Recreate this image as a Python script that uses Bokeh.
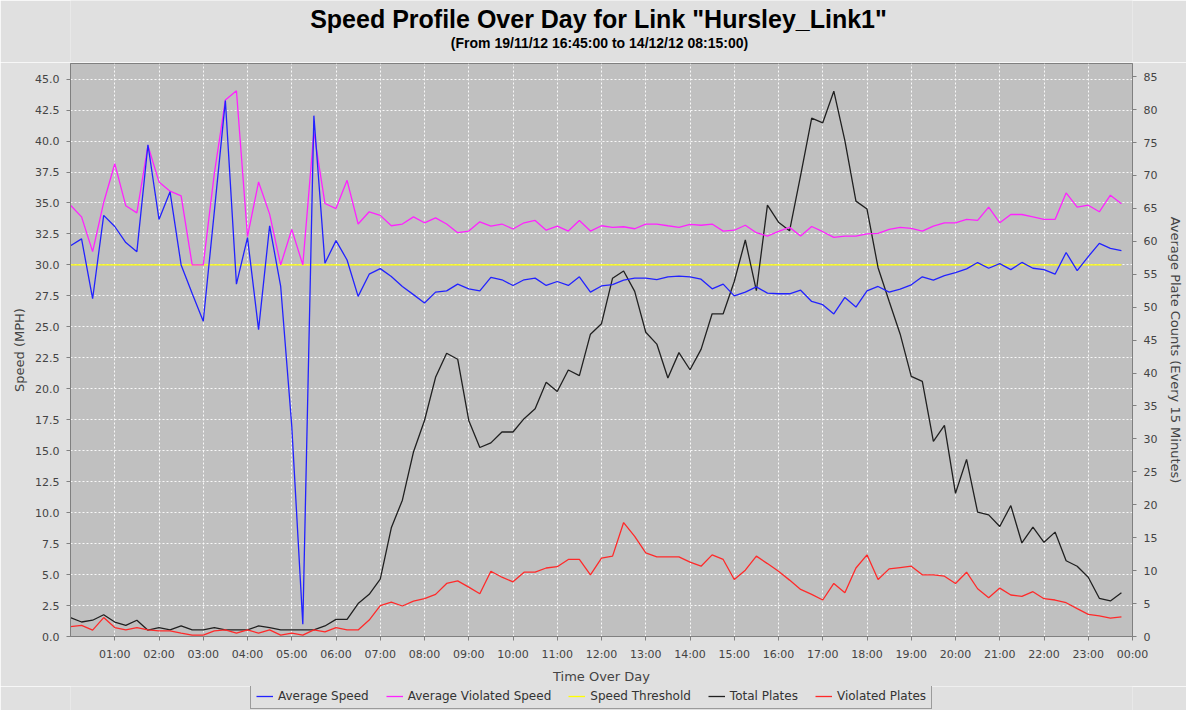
from bokeh.plotting import figure
from bokeh.layouts import column
from bokeh.models import Range1d, LinearAxis, FixedTicker, Legend, LegendItem, Label
from bokeh.embed import file_html
from bokeh.resources import INLINE

# ---------------- data (15-minute slots, 00:00 .. 23:45) ----------------
slots = [i / 4 for i in range(96)]  # hour of day for each 15-minute slot

avg_speed = [
    31.55, 32.1, 27.27, 34.0, 33.1, 31.8, 31.07, 39.7, 33.67, 35.9,
    30.0, 27.7, 25.45, 34.3, 43.26, 28.45, 32.2, 24.78, 33.16, 28.26,
    17.0, 1.0, 42.05, 30.13, 31.96, 30.4, 27.46, 29.25, 29.7, 29.06,
    28.26, 27.6, 26.92, 27.8, 27.9, 28.45, 28.07, 27.9, 29.0, 28.8,
    28.34, 28.8, 28.93, 28.34, 28.66, 28.34, 29.04, 27.8, 28.3, 28.4,
    28.77, 28.93, 28.93, 28.82, 29.04, 29.1, 29.04, 28.85, 28.07, 28.45,
    27.5, 27.8, 28.23, 27.72,
    27.67, 27.67, 27.96, 27.05, 26.79, 26.04, 27.37, 26.6, 27.9, 28.26,
    27.8, 28.04, 28.39, 29.04, 28.77, 29.14, 29.38, 29.68, 30.19, 29.73,
    30.1, 29.62, 30.2, 29.73, 29.62, 29.25, 31.0, 29.54, 30.67, 31.74,
    31.34, 31.15,
]

avg_violated_speed = [
    34.82, 33.88, 31.07, 35.04, 38.17, 34.77, 34.2, 39.64, 36.7, 35.95,
    35.57, 30.0, 30.0, 37.37, 43.31, 44.06, 32.28, 36.7, 34.1, 30.0,
    32.87, 30.0, 40.7, 34.96, 34.55, 36.83, 33.3, 34.29, 34.0, 33.16,
    33.3, 33.88, 33.4, 33.8, 33.3, 32.6, 32.73, 33.48, 33.13, 33.3,
    32.9, 33.4, 33.59, 32.8, 33.13, 32.73, 33.59, 32.73, 33.16, 33.03,
    33.08, 32.92, 33.3, 33.3, 33.16, 33.03, 33.27, 33.2, 33.3, 32.73,
    32.8, 33.2, 32.6, 32.33,
    32.7, 33.03, 32.33, 33.1, 32.68, 32.22, 32.33, 32.33, 32.5, 32.54,
    32.87, 33.03, 32.95, 32.73, 33.13, 33.4, 33.4, 33.67, 33.59, 34.66,
    33.4, 34.07, 34.07, 33.88, 33.67, 33.67, 35.81, 34.66, 34.82, 34.29,
    35.63, 34.93,
]

speed_threshold = 30.0

total_plates = [
    2.87, 2.2, 2.47, 3.3, 2.2, 1.7, 2.47, 0.96, 1.36, 1.0,
    1.6, 1.0, 1.0, 1.36, 1.0, 1.0, 1.0, 1.6, 1.36, 1.0,
    1.0, 1.0, 1.0, 1.6, 2.6, 2.6, 5.0, 6.4, 8.7, 16.5,
    20.7, 28.0, 32.8, 39.35, 43.0, 42.1, 32.8, 28.7, 29.4, 31.05,
    31.05, 33.07, 34.57, 38.6, 37.2, 40.46, 39.6, 45.9, 47.5, 54.4,
    55.5, 52.4, 46.2, 44.4, 39.25, 43.1, 40.5, 43.6, 49.0, 49.0,
    53.9, 60.2, 52.5, 65.5,
    62.9, 61.6, 70.0, 78.7, 78.0, 82.8, 75.3, 66.1, 64.9, 56.0,
    50.9, 45.9, 39.5, 38.75, 29.64, 32.06, 21.74, 26.9, 18.87, 18.47,
    16.7, 19.88, 14.2, 16.6, 14.3, 15.85, 11.5, 10.67, 9.0, 5.8,
    5.4, 6.64,
]

violated_plates = [
    1.5, 1.7, 0.96, 2.87, 1.36, 1.0, 1.36, 1.0, 0.86, 0.86,
    0.5, 0.2, 0.2, 0.86, 1.0, 0.5, 1.0, 0.5, 1.0, 0.2,
    0.5, 0.2, 1.0, 0.7, 1.36, 1.0, 1.0, 2.5, 4.7, 5.23,
    4.63, 5.38, 5.74, 6.4, 8.05, 8.45, 7.5, 6.5, 9.9, 9.0,
    8.3, 9.76, 9.76, 10.4, 10.6, 11.7, 11.7, 9.36, 11.9, 12.2,
    17.3, 15.2, 12.7, 12.1, 12.1, 12.1, 11.3, 10.67, 12.4, 11.7,
    8.66, 10.07, 12.2, 11.07,
    9.9, 8.56, 7.15, 6.4, 5.54, 8.05, 6.64, 10.4, 12.4, 8.66,
    10.27, 10.47, 10.67, 9.36, 9.36, 9.16, 8.05, 9.76, 7.25, 5.9,
    7.35, 6.3, 6.1, 6.8, 5.74, 5.54, 5.13, 4.23, 3.37, 3.12,
    2.8, 2.97,
]

hour_ticks = list(range(1, 25))
hour_labels = ["01:00", "02:00", "03:00", "04:00", "05:00", "06:00", "07:00", "08:00",
               "09:00", "10:00", "11:00", "12:00", "13:00", "14:00", "15:00", "16:00",
               "17:00", "18:00", "19:00", "20:00", "21:00", "22:00", "23:00", "00:00"]
speed_ticks = [0, 2.5, 5, 7.5, 10, 12.5, 15, 17.5, 20, 22.5, 25, 27.5, 30, 32.5, 35,
               37.5, 40, 42.5, 45]
speed_labels = ["0.0", "2.5", "5.0", "7.5", "10.0", "12.5", "15.0", "17.5", "20.0", "22.5",
                "25.0", "27.5", "30.0", "32.5", "35.0", "37.5", "40.0", "42.5", "45.0"]
plate_ticks = [0, 5, 10, 15, 20, 25, 30, 35, 40, 45, 50, 55, 60, 65, 70, 75, 80, 85]

series_names = ["Average Speed", "Average Violated Speed", "Speed Threshold",
                "Total Plates", "Violated Plates"]
series_colors = ["#2222ff", "#ff22ff", "#ffff00", "#202020", "#ff2a2a"]

title_text = 'Speed Profile Over Day for Link "Hursley_Link1"'
subtitle_text = "(From 19/11/12 16:45:00 to 14/12/12 08:15:00)"

# ---------------- styling ----------------
BG = "#e0e0e0"
AX = "#808080"
TXT = "#444444"
W = 1186
FRAME_L, FRAME_R = 70, 1136   # frame edges (column aligns the panels' frames)


def blank_panel(h):
    f = figure(width=W, height=h, output_backend="svg", toolbar_location=None,
               x_range=Range1d(FRAME_L, FRAME_R), y_range=Range1d(h, 0),
               x_axis_location=None, y_axis_location=None,
               min_border_left=FRAME_L, min_border_right=W - FRAME_R,
               min_border_top=0, min_border_bottom=0,
               background_fill_color=BG, border_fill_color=BG, outline_line_color=None)
    f.grid.visible = False
    return f


# ---------------- title panel ----------------
p_top = blank_panel(62)
p_top.add_layout(Label(x=600, y=18.5, text=title_text, text_align="center",
                       text_baseline="middle", text_font="Liberation Sans",
                       text_font_size="25px", text_font_style="bold", text_color="black"))
p_top.add_layout(Label(x=601, y=42, text=subtitle_text, text_align="center",
                       text_baseline="middle", text_font="Liberation Sans",
                       text_font_size="14px", text_font_style="bold", text_color="black"))

# ---------------- main chart ----------------
p = figure(width=W, height=624, output_backend="svg", toolbar_location=None,
           x_range=Range1d(0, 24), y_range=Range1d(0, 46.26),
           min_border_left=FRAME_L, min_border_right=W - FRAME_R,
           min_border_top=1, min_border_bottom=47,
           background_fill_color="#c0c0c0", border_fill_color=BG,
           outline_line_color=AX, outline_line_width=1)
p.extra_y_ranges = {"plates": Range1d(0, 87.0)}


def style_axis(ax):
    ax.axis_line_color = AX
    ax.major_tick_line_color = AX
    ax.major_tick_in = 0
    ax.major_tick_out = 4
    ax.minor_tick_in = 0
    ax.minor_tick_out = 0
    ax.major_label_standoff = 7
    ax.major_label_text_font = "DejaVu Sans"
    ax.major_label_text_font_size = "11px"
    ax.major_label_text_color = TXT
    ax.axis_label_text_font = "DejaVu Sans"
    ax.axis_label_text_font_size = "13px"
    ax.axis_label_text_font_style = "normal"
    ax.axis_label_text_color = TXT


xa = p.xaxis[0]
xa.ticker = FixedTicker(ticks=hour_ticks)
xa.major_label_overrides = dict(zip(hour_ticks, hour_labels))
xa.axis_label = "Time Over Day"
style_axis(xa)
xa.axis_label_standoff = 5

ya = p.yaxis[0]
ya.ticker = FixedTicker(ticks=speed_ticks)
ya.major_label_overrides = dict(zip(speed_ticks, speed_labels))
ya.axis_label = "Speed (MPH)"
style_axis(ya)
ya.axis_label_standoff = 5

ra = LinearAxis(y_range_name="plates", axis_label="Average Plate Counts (Every 15 Minutes)",
                ticker=FixedTicker(ticks=plate_ticks))
style_axis(ra)
ra.axis_label_standoff = 8
p.add_layout(ra, "right")

p.xgrid.ticker = FixedTicker(ticks=hour_ticks)
for g in (p.xgrid[0], p.ygrid[0]):
    g.grid_line_color = "white"
    g.grid_line_dash = "2 2"
    g.grid_line_alpha = 0.9
    g.grid_line_width = 1

LW = 1.3
p.segment(x0=slots[0], x1=slots[-1], y0=speed_threshold, y1=speed_threshold,
          line_color=series_colors[2], line_width=LW)
p.line(slots, total_plates, y_range_name="plates", line_color=series_colors[3], line_width=LW)
p.line(slots, violated_plates, y_range_name="plates", line_color=series_colors[4], line_width=LW)
p.line(slots, avg_violated_speed, line_color=series_colors[1], line_width=LW)
p.line(slots, avg_speed, line_color=series_colors[0], line_width=LW)

# ---------------- legend panel ----------------
p_leg = blank_panel(24)
first_values = [avg_speed[0], avg_violated_speed[0], speed_threshold,
                total_plates[0], violated_plates[0]]
items = []
for name, color, v in zip(series_names, series_colors, first_values):
    # single-point line: nothing is drawn, it only supplies the legend swatch style
    r = p_leg.line(x=[slots[0]], y=[v], line_color=color, line_width=LW)
    items.append(LegendItem(label=name, renderers=[r]))

legend = Legend(items=items, location=(180, 1), orientation="horizontal",
                border_line_color="#555555", border_line_width=1,
                background_fill_color=BG, background_fill_alpha=1.0,
                label_text_font="DejaVu Sans", label_text_font_size="12px",
                label_text_color="#333333",
                glyph_width=17, glyph_height=12, label_height=12, label_standoff=5,
                spacing=17, padding=5, margin=0)
p_leg.add_layout(legend)

layout = column(p_top, p, p_leg, spacing=0)

open("out.html", "w").write(file_html(layout, INLINE))
